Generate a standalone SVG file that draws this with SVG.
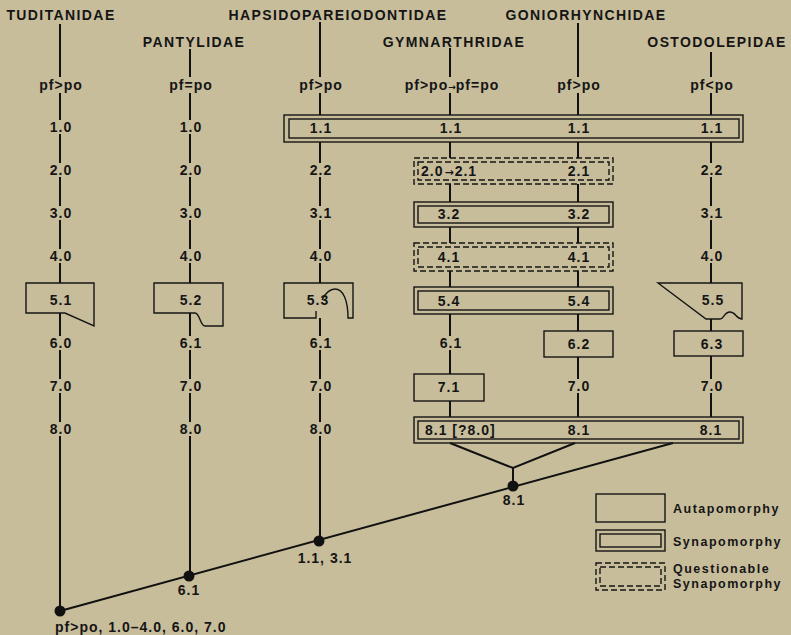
<svg xmlns="http://www.w3.org/2000/svg" width="791" height="635" viewBox="0 0 791 635">
<style>
text{font-family:"Liberation Sans",Arial,sans-serif;font-weight:bold;fill:#151515}
.t{font-size:14px;letter-spacing:1.4px;text-anchor:middle}
.n{font-size:14px;letter-spacing:1px;text-anchor:middle}
.ns{font-size:14px;letter-spacing:1px}
.lg{font-size:12.5px;letter-spacing:1.5px}
.ar{font-family:"DejaVu Sans",sans-serif;letter-spacing:0}
.c line,.c path{stroke:#111;stroke-width:2;fill:none}
.box{fill:none;stroke:#151515;stroke-width:1.4}
.q{fill:none;stroke:#151515;stroke-width:1.4;stroke-dasharray:6 3}
.dot{fill:#111}
</style>
<rect width="791" height="635" fill="#c8bd9b"/>

<g id="connectors" class="c">
<path d="M60 24V77M60 93V120M60 134V163M60 177V206M60 220V249M60 263V283M60 313V336M60 350V379M60 393V422M60 436V611"/>
<path d="M190 49V77M190 93V120M190 134V163M190 177V206M190 220V249M190 263V283M190 313V336M190 350V379M190 393V422M190 436V576"/>
<path d="M320 22V77M320 93V115M320 142V163M320 177V206M320 220V249M320 263V283M320 318V336M320 350V379M320 393V422M320 436V541"/>
<path d="M450 48V77M450 93V115M450 142V158M450 184V202M450 227V243M450 271V287M450 314V336M450 350V374M450 401V417"/>
<path d="M578 23V77M578 93V115M578 142V158M578 184V202M578 227V243M578 271V287M578 314V331M578 357V379M578 393V417"/>
<path d="M711 52V77M711 93V115M711 142V163M711 177V206M711 220V249M711 263V283M711 319V331M711 356V379M711 393V417"/>
<path d="M60 611L673 443"/>
<path d="M450 443L513 468L575 443M513 468V486"/>
</g>

<g id="taxa">
<text class="t" x="61" y="20">TUDITANIDAE</text>
<text class="t" x="194" y="47">PANTYLIDAE</text>
<text class="t" x="338" y="20">HAPSIDOPAREIODONTIDAE</text>
<text class="t" x="586" y="20">GONIORHYNCHIDAE</text>
<text class="t" x="454" y="47">GYMNARTHRIDAE</text>
<text class="t" x="717" y="47">OSTODOLEPIDAE</text>
</g>

<g id="col-tuditanidae">
<text class="n" x="61" y="90">pf&gt;po</text>
<text class="n" x="61" y="132">1.0</text>
<text class="n" x="61" y="175">2.0</text>
<text class="n" x="61" y="218">3.0</text>
<text class="n" x="61" y="261">4.0</text>
<path class="box" d="M26 283H94V326L65 313H26Z"/>
<text class="n" x="61" y="305">5.1</text>
<text class="n" x="61" y="348">6.0</text>
<text class="n" x="61" y="391">7.0</text>
<text class="n" x="61" y="434">8.0</text>
</g>

<g id="col-pantylidae">
<text class="n" x="191" y="90">pf=po</text>
<text class="n" x="191" y="132">1.0</text>
<text class="n" x="191" y="175">2.0</text>
<text class="n" x="191" y="218">3.0</text>
<text class="n" x="191" y="261">4.0</text>
<path class="box" d="M154 283H223V326H205C200 326 200 313 195 313H154Z"/>
<text class="n" x="191" y="305">5.2</text>
<text class="n" x="191" y="348">6.1</text>
<text class="n" x="191" y="391">7.0</text>
<text class="n" x="191" y="434">8.0</text>
</g>

<g id="col-hapsidopareiodontidae">
<text class="n" x="321" y="90">pf&gt;po</text>
<text class="n" x="321" y="175">2.2</text>
<text class="n" x="321" y="218">3.1</text>
<text class="n" x="321" y="261">4.0</text>
<path class="box" d="M316 311V318H284V283H353V318H348C348 300 343 289 335 289C328 289 324 296 322 300"/>
<text class="n" x="318" y="305">5.3</text>
<text class="n" x="321" y="348">6.1</text>
<text class="n" x="321" y="391">7.0</text>
<text class="n" x="321" y="434">8.0</text>
</g>

<g id="col-gymnarthridae">
<text class="n" x="452" y="90">pf&gt;po<tspan class="ar" font-size="9">→</tspan>pf=po</text>
<text class="n" x="451" y="348">6.1</text>
</g>

<g id="col-goniorhynchidae">
<text class="n" x="579" y="90">pf&gt;po</text>
<text class="n" x="579" y="391">7.0</text>
</g>

<g id="col-ostodolepidae">
<text class="n" x="712" y="90">pf&lt;po</text>
<text class="n" x="712" y="175">2.2</text>
<text class="n" x="712" y="218">3.1</text>
<text class="n" x="712" y="261">4.0</text>
<path class="box" d="M658 283H742V319C736 319 736 312 730 312C724 312 724 319 720 319H706Z"/>
<text class="n" x="713" y="305">5.5</text>
<text class="n" x="712" y="391">7.0</text>
</g>

<g id="syn-1">
<rect class="box" x="284" y="115" width="459" height="27"/>
<rect class="box" x="289" y="119" width="450" height="19"/>
<text class="n" x="321" y="133">1.1</text>
<text class="n" x="451" y="133">1.1</text>
<text class="n" x="579" y="133">1.1</text>
<text class="n" x="712" y="133">1.1</text>
</g>

<g id="qsyn-2">
<rect class="q" x="414" y="158" width="199" height="26"/>
<rect class="q" x="418" y="162" width="191" height="18"/>
<text class="ns" x="421" y="176">2.0<tspan class="ar" font-size="11" dx="1">→</tspan><tspan dx="1">2.1</tspan></text>
<text class="n" x="579" y="176">2.1</text>
</g>

<g id="syn-3">
<rect class="box" x="414" y="202" width="199" height="25"/>
<rect class="box" x="418" y="206" width="191" height="17"/>
<text class="n" x="449" y="219">3.2</text>
<text class="n" x="579" y="219">3.2</text>
</g>

<g id="qsyn-4">
<rect class="q" x="414" y="243" width="199" height="28"/>
<rect class="q" x="418" y="247" width="191" height="20"/>
<text class="n" x="449" y="262">4.1</text>
<text class="n" x="579" y="262">4.1</text>
</g>

<g id="syn-5">
<rect class="box" x="414" y="287" width="199" height="27"/>
<rect class="box" x="418" y="291" width="191" height="19"/>
<text class="n" x="449" y="306">5.4</text>
<text class="n" x="579" y="306">5.4</text>
</g>

<g id="aut-6-2">
<rect class="box" x="544" y="331" width="69" height="26"/>
<text class="n" x="579" y="349">6.2</text>
</g>

<g id="aut-6-3">
<rect class="box" x="674" y="331" width="69" height="25"/>
<text class="n" x="712" y="349">6.3</text>
</g>

<g id="aut-7-1">
<rect class="box" x="414" y="374" width="70" height="27"/>
<text class="n" x="449" y="392">7.1</text>
</g>

<g id="syn-8">
<rect class="box" x="414" y="417" width="329" height="26"/>
<rect class="box" x="418" y="421" width="321" height="18"/>
<text class="ns" x="425" y="435">8.1 [?8.0]</text>
<text class="n" x="579" y="435">8.1</text>
<text class="n" x="711" y="435">8.1</text>
</g>

<g id="nodes">
<circle class="dot" cx="60" cy="611" r="5.5"/>
<circle class="dot" cx="189" cy="576" r="5.5"/>
<circle class="dot" cx="319" cy="541" r="5.5"/>
<circle class="dot" cx="513" cy="486" r="5.5"/>
<text class="n" x="514" y="505">8.1</text>
<text class="n" x="189" y="595">6.1</text>
<text class="n" x="325" y="563">1.1, 3.1</text>
<text class="ns" x="55" y="632" letter-spacing="0.6">pf&gt;po, 1.0–4.0, 6.0, 7.0</text>
</g>

<g id="legend">
<rect class="box" x="596" y="494" width="69" height="28"/>
<text class="lg" x="673" y="513">Autapomorphy</text>
<rect class="box" x="596" y="530" width="69" height="21"/>
<rect class="box" x="600" y="534" width="61" height="13"/>
<text class="lg" x="673" y="546">Synapomorphy</text>
<rect class="q" x="596" y="563" width="69" height="27" stroke-dasharray="5 3"/>
<rect class="q" x="600" y="567" width="61" height="19" stroke-dasharray="5 3"/>
<text class="lg" x="673" y="573">Questionable</text>
<text class="lg" x="673" y="588">Synapomorphy</text>
</g>
</svg>
